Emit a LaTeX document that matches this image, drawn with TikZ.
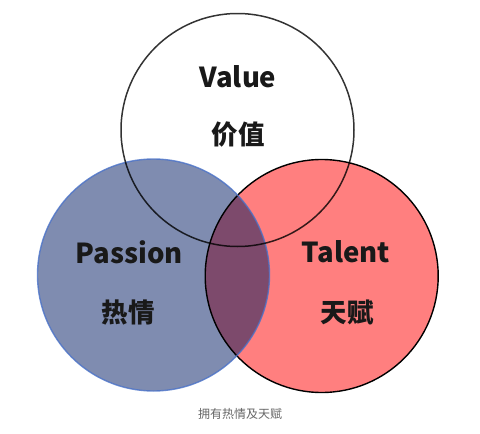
\documentclass[tikz,border=0pt]{standalone}
\usepackage{fontspec}
\setmainfont{Noto Sans CJK SC}
\definecolor{bluefill}{HTML}{7F8CB0}
\definecolor{blueline}{HTML}{4A72C8}
\definecolor{redfill}{HTML}{FF7F7F}
\definecolor{mixfill}{HTML}{7D4A6C}
\definecolor{captiongray}{HTML}{666666}
\tikzset{
  biglabel/.style={font=\fontsize{27.5}{30}\selectfont\bfseries, text=black!90, inner sep=0pt},
  cjklabel/.style={font=\fontsize{26.5}{28}\selectfont\bfseries, text=black!90, inner sep=0pt},
  captionlabel/.style={font=\fontsize{12}{14}\selectfont, text=captiongray, inner sep=0pt},
}
\begin{document}
\begin{tikzpicture}[x=1pt,y=-1pt]
\useasboundingbox[fill=white] (0,0) rectangle (480,434);
\coordinate (cv) at (237.5,130);
\coordinate (cp) at (153.5,275);
\coordinate (ct) at (321.7,276);
% fills
\fill[bluefill] (cp) circle (116);
\fill[redfill] (ct) circle (116.5);
\begin{scope}
  \clip (cp) circle (116);
  \fill[mixfill] (ct) circle (116.5);
\end{scope}
% outlines
\draw[black, line width=1.4pt] (ct) circle (116.5);
\draw[blueline, line width=1.4pt, opacity=0.8] (cp) circle (116);
\draw[black, line width=1.5pt, opacity=0.8] (cv) circle (116.5);
% labels
\node[biglabel] (value) at (238,77) {Value};
\node[cjklabel] (valuecn) at (238,135) {价值};
\node[biglabel] (passion) at (129.5,252) {Passion};
\node[cjklabel] (passioncn) at (128,312) {热情};
\node[biglabel] (talent) at (346,252) {Talent};
\node[cjklabel] (talentcn) at (347,312) {天赋};
\node[captionlabel] (caption) at (240,414) {拥有热情及天赋};
\end{tikzpicture}
\end{document}
